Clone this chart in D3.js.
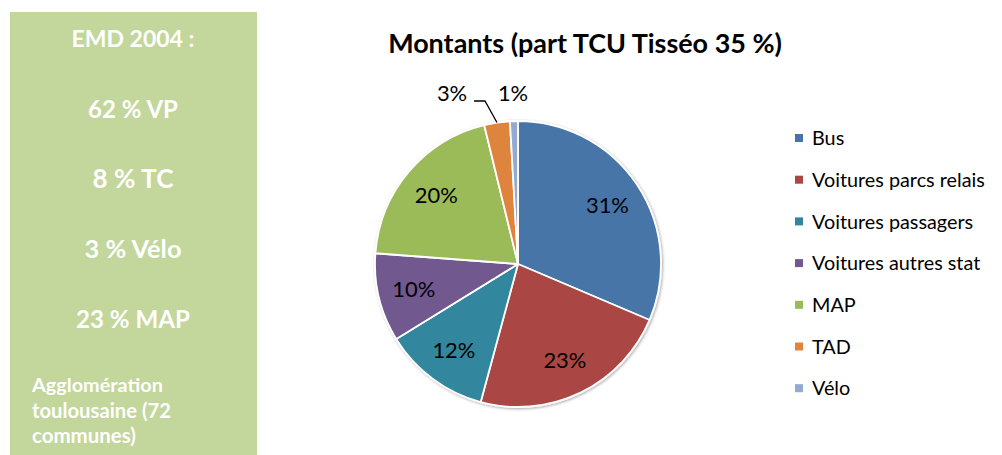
<!DOCTYPE html>
<html><head><meta charset="utf-8">
<script src="https://cdn.jsdelivr.net/npm/d3@7"></script>
<style>body{margin:0;background:#fff}svg{display:block}text{font-family:Lato,"Open Sans",sans-serif}</style>
</head><body>
<svg id="c" width="1002" height="455"></svg>
<script>
const categories = ["Bus","Voitures parcs relais","Voitures passagers","Voitures autres stat","MAP","TAD","Vélo"];
const values = [31.4, 22.8, 12.0, 10.0, 20.0, 2.9, 0.9];
const valueLabels = ["31%","23%","12%","10%","20%","3%","1%"];
const colors = ["#4674A8","#AA4644","#31869D","#71588F","#9BBB59","#DF843E","#93AAD3"];
const panelLines = ["EMD 2004 :","62 % VP","8 % TC","3 % Vélo","23 % MAP"];
const panelNote = ["Agglomération","toulousaine (72","communes)"];
const title = "Montants (part TCU Tisséo 35 %)";

const svg = d3.select("#c");
function fit(sel, w){ const n=sel.node(); const l=n.getComputedTextLength(); const fs=parseFloat(sel.attr("font-size")); sel.attr("font-size", fs*w/l); return fs*w/l; }

// cut-off text from the slide above
svg.append("text").attr("x",594).attr("y",-4).attr("text-anchor","middle").attr("font-weight","bold").attr("font-size",22).attr("fill","#000").text("gg");

// left panel
svg.append("rect").attr("x",10).attr("y",12).attr("width",247).attr("height",450).attr("fill","#C3D69B");
const py = [47,118,188,258,328];
const pw = [123,90,81,97,114];
panelLines.forEach((t,i)=>{
  const s = svg.append("text").attr("x",133).attr("y",py[i]).attr("text-anchor","middle").attr("font-weight","bold").attr("font-size",20).attr("fill","#fff").text(t);
  fit(s,pw[i]);
});
const nw=[131,139,104];
panelNote.forEach((t,i)=>{
  const s = svg.append("text").attr("x",32).attr("y",392+i*25.5).attr("font-weight","bold").attr("font-size",16).attr("fill","#fff").text(t);
  fit(s,nw[i]);
});

// title
const ts = svg.append("text").attr("x",585).attr("y",53).attr("text-anchor","middle").attr("font-weight","bold").attr("font-size",24).attr("fill","#000").text(title);
fit(ts,394);

// shadow filter
const defs = svg.append("defs");
const f = defs.append("filter").attr("id","sh").attr("x","-20%").attr("y","-20%").attr("width","140%").attr("height","140%");
f.append("feGaussianBlur").attr("in","SourceAlpha").attr("stdDeviation",1.5);
f.append("feOffset").attr("dx",0.5).attr("dy",1).attr("result","b");
f.append("feComponentTransfer").append("feFuncA").attr("type","linear").attr("slope",0.35);
const m = f.append("feMerge"); m.append("feMergeNode"); m.append("feMergeNode").attr("in","SourceGraphic");

const cx=518, cy=264, r=143;
const pie = d3.pie().sort(null).value(d=>d)(values);
const arc = d3.arc().innerRadius(0).outerRadius(r);
const g = svg.append("g").attr("transform",`translate(${cx},${cy})`);
const gp = g.append("g").attr("filter","url(#sh)");
gp.selectAll("path").data(pie).join("path").attr("d",arc).attr("fill",(d,i)=>colors[i]).attr("stroke","#fff").attr("stroke-width",1.8).attr("stroke-linejoin","round");

// inside labels
const inArc = d3.arc().innerRadius(r*0.75).outerRadius(r*0.75);
let lblFs = 22;
const probe = g.append("text").attr("font-size",22).text("31%");
lblFs = fit(probe,43); probe.remove();
pie.forEach((d,i)=>{
  if(i>=5) return;
  const [x,y] = inArc.centroid(d);
  g.append("text").attr("x",x).attr("y",y).attr("dy","0.36em").attr("text-anchor","middle").attr("font-size",lblFs).attr("fill","#000").text(valueLabels[i]);
});
// outside labels
g.append("text").attr("x",452-cx).attr("y",93-cy).attr("dy","0.36em").attr("text-anchor","middle").attr("font-size",lblFs).attr("fill","#000").text(valueLabels[5]);
g.append("text").attr("x",513-cx).attr("y",93-cy).attr("dy","0.36em").attr("text-anchor","middle").attr("font-size",lblFs).attr("fill","#000").text(valueLabels[6]);
// leader line for TAD
const ta = pie[5]; const mid=(ta.startAngle+ta.endAngle)/2;
const ex = Math.sin(mid)*r, ey=-Math.cos(mid)*r;
g.append("polyline").attr("points",`${474-cx},${101-cy} ${485-cx},${101-cy} ${ex},${ey}`).attr("fill","none").attr("stroke","#000").attr("stroke-width",1.3);

// legend
const lg = svg.append("g");
const lp = lg.append("text").attr("font-size",17).text(categories[1]);
const legFs = fit(lp,173); lp.remove();
categories.forEach((c,i)=>{
  const y = 138 + i*41.7;
  lg.append("rect").attr("x",795).attr("y",y-4).attr("width",8).attr("height",8).attr("fill",colors[i]);
  lg.append("text").attr("x",812).attr("y",y).attr("dy","0.36em").attr("font-size",legFs).attr("fill","#000").text(c);
});
</script>
</body></html>
